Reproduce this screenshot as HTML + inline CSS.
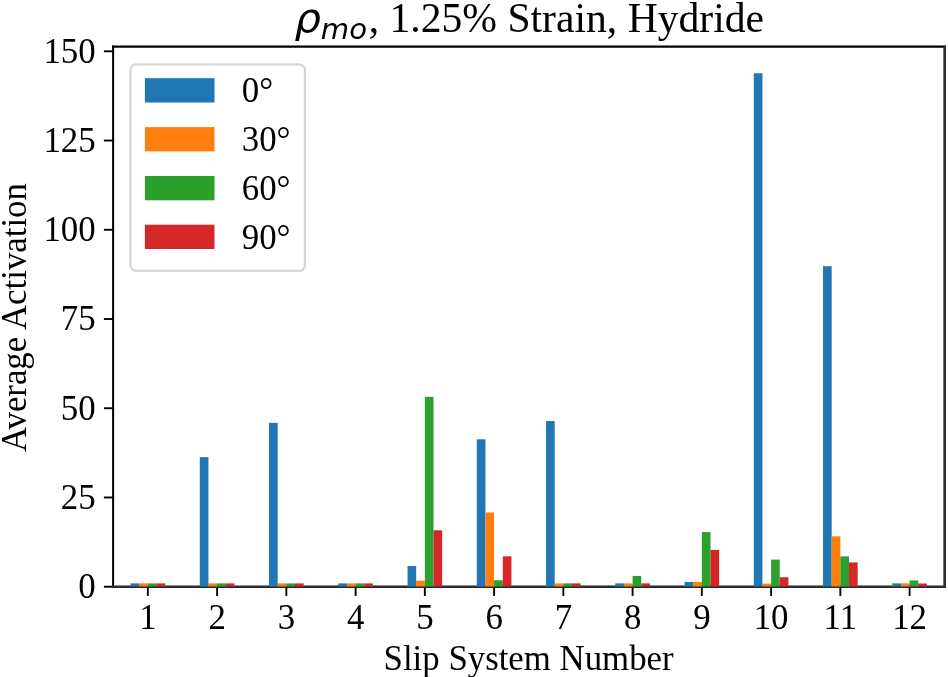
<!DOCTYPE html>
<html lang="en">
<head>
<meta charset="utf-8">
<title>Average Activation by Slip System Number</title>
<style>
html, body { margin: 0; padding: 0; background: #ffffff; }
body { width: 948px; height: 677px; overflow: hidden; }
svg { display: block; }
text { font-family: "Liberation Serif", "DejaVu Serif", serif; fill: #000000; }
.rho { font-family: "DejaVu Sans", "Liberation Sans", sans-serif; font-style: italic; }
</style>
</head>
<body>
<svg width="948" height="677" viewBox="0 0 948 677">
<rect x="0" y="0" width="948" height="677" fill="#ffffff"/>

<g stroke="#000000" stroke-width="1.9" fill="none">
<line x1="147.85" y1="586.70" x2="147.85" y2="595.90"/>
<line x1="217.10" y1="586.70" x2="217.10" y2="595.90"/>
<line x1="286.35" y1="586.70" x2="286.35" y2="595.90"/>
<line x1="355.60" y1="586.70" x2="355.60" y2="595.90"/>
<line x1="424.85" y1="586.70" x2="424.85" y2="595.90"/>
<line x1="494.10" y1="586.70" x2="494.10" y2="595.90"/>
<line x1="563.35" y1="586.70" x2="563.35" y2="595.90"/>
<line x1="632.60" y1="586.70" x2="632.60" y2="595.90"/>
<line x1="701.85" y1="586.70" x2="701.85" y2="595.90"/>
<line x1="771.10" y1="586.70" x2="771.10" y2="595.90"/>
<line x1="840.35" y1="586.70" x2="840.35" y2="595.90"/>
<line x1="909.60" y1="586.70" x2="909.60" y2="595.90"/>
<line x1="113.10" y1="586.70" x2="103.90" y2="586.70"/>
<line x1="113.10" y1="497.47" x2="103.90" y2="497.47"/>
<line x1="113.10" y1="408.23" x2="103.90" y2="408.23"/>
<line x1="113.10" y1="319.00" x2="103.90" y2="319.00"/>
<line x1="113.10" y1="229.77" x2="103.90" y2="229.77"/>
<line x1="113.10" y1="140.53" x2="103.90" y2="140.53"/>
<line x1="113.10" y1="51.30" x2="103.90" y2="51.30"/>
<line x1="113.1" y1="45.55" x2="113.1" y2="588.00" stroke-width="2.0"/>
<line x1="112.10" y1="46.6" x2="945.75" y2="46.6" stroke-width="2.1"/>
<line x1="944.65" y1="45.55" x2="944.65" y2="588.00" stroke-width="2.6" stroke="#2b2b2b"/>
<line x1="112.10" y1="586.7" x2="945.95" y2="586.7" stroke-width="2.6" stroke="#2b2b2b"/>
</g>
<g shape-rendering="auto">
<rect x="130.54" y="583.38" width="8.66" height="3.12" fill="#1f77b4"/>
<rect x="139.19" y="583.38" width="8.66" height="3.12" fill="#ff7f0e"/>
<rect x="147.85" y="583.38" width="8.66" height="3.12" fill="#2ca02c"/>
<rect x="156.51" y="583.38" width="8.66" height="3.12" fill="#d62728"/>
<rect x="199.79" y="457.13" width="8.66" height="129.37" fill="#1f77b4"/>
<rect x="208.44" y="583.38" width="8.66" height="3.12" fill="#ff7f0e"/>
<rect x="217.10" y="583.38" width="8.66" height="3.12" fill="#2ca02c"/>
<rect x="225.76" y="583.38" width="8.66" height="3.12" fill="#d62728"/>
<rect x="269.04" y="422.87" width="8.66" height="163.63" fill="#1f77b4"/>
<rect x="277.69" y="583.38" width="8.66" height="3.12" fill="#ff7f0e"/>
<rect x="286.35" y="583.38" width="8.66" height="3.12" fill="#2ca02c"/>
<rect x="295.01" y="583.38" width="8.66" height="3.12" fill="#d62728"/>
<rect x="338.29" y="583.38" width="8.66" height="3.12" fill="#1f77b4"/>
<rect x="346.94" y="583.38" width="8.66" height="3.12" fill="#ff7f0e"/>
<rect x="355.60" y="583.38" width="8.66" height="3.12" fill="#2ca02c"/>
<rect x="364.26" y="583.38" width="8.66" height="3.12" fill="#d62728"/>
<rect x="407.54" y="566.00" width="8.66" height="20.50" fill="#1f77b4"/>
<rect x="416.19" y="580.63" width="8.66" height="5.87" fill="#ff7f0e"/>
<rect x="424.85" y="396.81" width="8.66" height="189.69" fill="#2ca02c"/>
<rect x="433.51" y="530.30" width="8.66" height="56.20" fill="#d62728"/>
<rect x="476.79" y="439.29" width="8.66" height="147.21" fill="#1f77b4"/>
<rect x="485.44" y="512.46" width="8.66" height="74.04" fill="#ff7f0e"/>
<rect x="494.10" y="580.28" width="8.66" height="6.22" fill="#2ca02c"/>
<rect x="502.76" y="556.36" width="8.66" height="30.14" fill="#d62728"/>
<rect x="546.04" y="421.08" width="8.66" height="165.42" fill="#1f77b4"/>
<rect x="554.69" y="583.38" width="8.66" height="3.12" fill="#ff7f0e"/>
<rect x="563.35" y="583.38" width="8.66" height="3.12" fill="#2ca02c"/>
<rect x="572.01" y="583.38" width="8.66" height="3.12" fill="#d62728"/>
<rect x="615.29" y="583.38" width="8.66" height="3.12" fill="#1f77b4"/>
<rect x="623.94" y="583.38" width="8.66" height="3.12" fill="#ff7f0e"/>
<rect x="632.60" y="575.99" width="8.66" height="10.51" fill="#2ca02c"/>
<rect x="641.26" y="583.38" width="8.66" height="3.12" fill="#d62728"/>
<rect x="684.54" y="581.95" width="8.66" height="4.55" fill="#1f77b4"/>
<rect x="693.19" y="581.95" width="8.66" height="4.55" fill="#ff7f0e"/>
<rect x="701.85" y="532.09" width="8.66" height="54.41" fill="#2ca02c"/>
<rect x="710.51" y="549.94" width="8.66" height="36.56" fill="#d62728"/>
<rect x="753.79" y="73.25" width="8.66" height="513.25" fill="#1f77b4"/>
<rect x="762.44" y="583.67" width="8.66" height="2.83" fill="#ff7f0e"/>
<rect x="771.10" y="559.57" width="8.66" height="26.93" fill="#2ca02c"/>
<rect x="779.76" y="577.24" width="8.66" height="9.26" fill="#d62728"/>
<rect x="823.04" y="266.17" width="8.66" height="320.33" fill="#1f77b4"/>
<rect x="831.69" y="536.37" width="8.66" height="50.13" fill="#ff7f0e"/>
<rect x="840.35" y="556.36" width="8.66" height="30.14" fill="#2ca02c"/>
<rect x="849.01" y="562.43" width="8.66" height="24.07" fill="#d62728"/>
<rect x="892.29" y="583.38" width="8.66" height="3.12" fill="#1f77b4"/>
<rect x="900.94" y="583.38" width="8.66" height="3.12" fill="#ff7f0e"/>
<rect x="909.60" y="580.42" width="8.66" height="6.08" fill="#2ca02c"/>
<rect x="918.26" y="583.49" width="8.66" height="3.01" fill="#d62728"/>
</g>
<g font-size="34.8px">
<text x="147.85" y="628.5" text-anchor="middle">1</text>
<text x="217.10" y="628.5" text-anchor="middle">2</text>
<text x="286.35" y="628.5" text-anchor="middle">3</text>
<text x="355.60" y="628.5" text-anchor="middle">4</text>
<text x="424.85" y="628.5" text-anchor="middle">5</text>
<text x="494.10" y="628.5" text-anchor="middle">6</text>
<text x="563.35" y="628.5" text-anchor="middle">7</text>
<text x="632.60" y="628.5" text-anchor="middle">8</text>
<text x="701.85" y="628.5" text-anchor="middle">9</text>
<text x="771.10" y="628.5" text-anchor="middle">10</text>
<text x="840.35" y="628.5" text-anchor="middle">11</text>
<text x="909.60" y="628.5" text-anchor="middle">12</text>
<text x="95.6" y="598.10" text-anchor="end">0</text>
<text x="95.6" y="508.87" text-anchor="end">25</text>
<text x="95.6" y="419.63" text-anchor="end">50</text>
<text x="95.6" y="330.40" text-anchor="end">75</text>
<text x="95.6" y="241.17" text-anchor="end">100</text>
<text x="95.6" y="151.93" text-anchor="end">125</text>
<text x="95.6" y="62.70" text-anchor="end">150</text>
</g>
<text x="528.6" y="669.5" font-size="34.8px" text-anchor="middle">Slip System Number</text>
<text transform="translate(26.2 317.6) rotate(-90)" font-size="34.8px" text-anchor="middle">Average Activation</text>
<text x="294.4" y="32.2" font-size="41.64px"><tspan class="rho">ρ</tspan><tspan class="rho" font-size="29.15px" dy="6.5">mo</tspan><tspan dy="-6.5" dx="1.6">, 1.25% Strain, Hydride</tspan></text>
<rect x="130.5" y="64.3" width="174.4" height="206.6" rx="5.6" ry="5.6" fill="#ffffff" fill-opacity="0.8" stroke="#cccccc" stroke-opacity="0.8" stroke-width="2.2"/>
<rect x="144.9" y="78.2" width="69.6" height="24.3" fill="#1f77b4"/>
<text x="241.8" y="102.3" font-size="34.8px">0°</text>
<rect x="144.9" y="127.1" width="69.6" height="24.3" fill="#ff7f0e"/>
<text x="241.8" y="151.2" font-size="34.8px">30°</text>
<rect x="144.9" y="176.0" width="69.6" height="24.3" fill="#2ca02c"/>
<text x="241.8" y="200.1" font-size="34.8px">60°</text>
<rect x="144.9" y="224.7" width="69.6" height="24.3" fill="#d62728"/>
<text x="241.8" y="248.8" font-size="34.8px">90°</text>
</svg>
</body>
</html>
